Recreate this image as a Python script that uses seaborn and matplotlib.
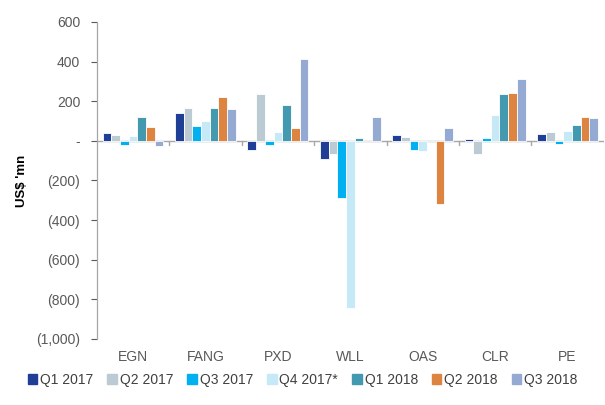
import numpy as np
import pandas as pd
import matplotlib
matplotlib.use('Agg')
import matplotlib.pyplot as plt
import seaborn as sns

companies = ['EGN', 'FANG', 'PXD', 'WLL', 'OAS', 'CLR', 'PE']
quarters = ['Q1 2017', 'Q2 2017', 'Q3 2017', 'Q4 2017*', 'Q1 2018', 'Q2 2018', 'Q3 2018']

q1_2017 = [37, 141, -47, -91, 27, 8, 32]
q2_2017 = [30, 165, 236, -67, 20, -69, 42]
q3_2017 = [-23, 76, -23, -288, -47, 14, -18]
q4_2017 = [25, 98, 44, -845, -50, 130, 47]
q1_2018 = [120, 165, 180, 14, 0, 236, 81]
q2_2018 = [70, 219, 66, 0, -321, 241, 120]
q3_2018 = [-28, 160, 413, 120, 64, 313, 113]

colors = ['#1F3F96', '#BCCBD3', '#00B0F0', '#C6E9F8', '#4299B0', '#DD8440', '#94AAD2']

series = [q1_2017, q2_2017, q3_2017, q4_2017, q1_2018, q2_2018, q3_2018]
rows = []
for q, vals in zip(quarters, series):
    for c, v in zip(companies, vals):
        rows.append({'company': c, 'quarter': q, 'value': v})
df = pd.DataFrame(rows)

sns.set_style('white')
plt.rcParams['font.family'] = ['Liberation Sans', 'DejaVu Sans']

fig = plt.figure(figsize=(6.05, 4.05), dpi=100)
ax = fig.add_axes([0.160, 0.163, 0.838, 0.783])

sns.barplot(data=df, x='company', y='value', hue='quarter', order=companies,
            hue_order=quarters, palette=colors, saturation=1, width=0.84,
            edgecolor='white', linewidth=0.6, ax=ax, legend=False)

ax.set_ylim(-1000, 600)
ax.set_xlim(-0.5, len(companies) - 0.5)
yt = np.arange(-1000, 601, 200)
ax.set_yticks(yt)
ax.set_yticklabels(['-' if v == 0 else (f'({abs(v):,})' if v < 0 else f'{v:,}') for v in yt])
ax.tick_params(axis='y', colors='#595959', labelsize=10, length=4, width=0.8,
               direction='out', left=True, pad=8)
ax.tick_params(axis='x', colors='#595959', labelsize=10, length=0, pad=8)
ax.set_xlabel('')
ax.set_ylabel("US$ 'mn", fontsize=9.5, fontweight='bold', color='black', labelpad=6)

for s in ['top', 'right', 'bottom']:
    ax.spines[s].set_visible(False)
ax.spines['left'].set_color('#A6A6A6')
ax.spines['left'].set_linewidth(0.9)

ax.axhline(0, color='#A6A6A6', linewidth=1.0, zorder=0.5)
for b in np.arange(0.5, len(companies) - 1, 1.0):
    ax.plot([b, b], [0, -20], color='#A6A6A6', linewidth=1.0, zorder=0.5)

handles = [plt.Rectangle((0, 0), 1, 1, color=c) for c in colors]
fig.legend(handles, quarters, loc='center', bbox_to_anchor=(0.5, 0.062),
           ncol=7, frameon=False, fontsize=10, handlelength=0.7, handleheight=0.7,
           handletextpad=0.2, columnspacing=1.0, labelcolor='#404040')

fig.savefig('out.png', dpi=100)
